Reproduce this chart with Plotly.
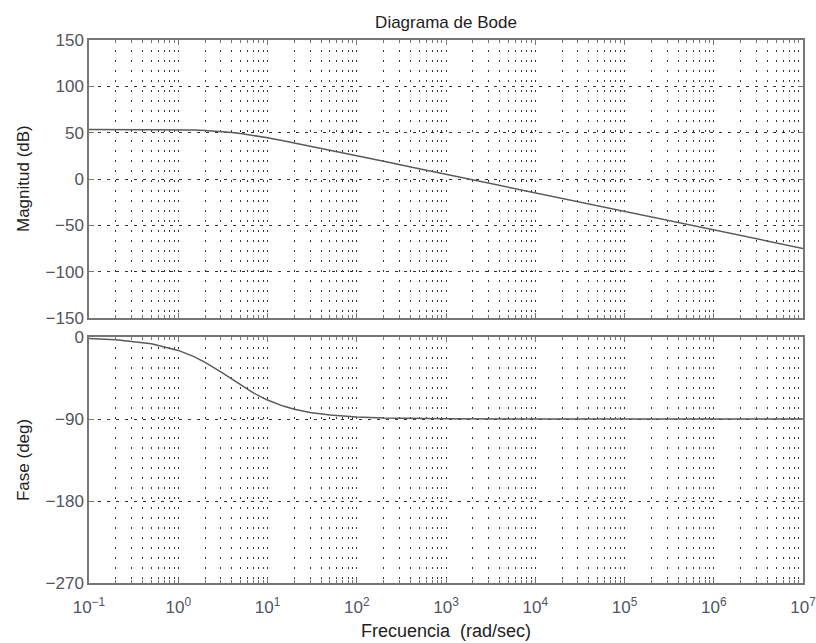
import plotly.graph_objects as go
from plotly.subplots import make_subplots

# --- data ---
freq = [0.1, 0.2, 0.5, 1, 1.5, 2, 3, 4, 5, 7, 10, 15, 20, 30, 50, 100, 200, 500,
        1e3, 1e4, 1e5, 1e6, 1e7]
magnitude_db = [53.5, 53.5, 53.4, 53.2, 52.9, 52.4, 51.4, 50.3, 49.1, 47.1, 44.5, 41.3,
                38.9, 35.5, 31.1, 25.1, 19.1, 11.1, 5.1, -14.9, -34.9, -54.9, -74.9]
phase_deg = [-1.5, -3.0, -7.5, -14.7, -21.5, -27.8, -38.3, -46.5, -52.8, -61.5, -69.2,
             -75.8, -79.2, -82.8, -85.7, -87.8, -88.9, -89.6, -89.8, -90, -90, -90, -90]

x_tick_exps = [-1, 0, 1, 2, 3, 4, 5, 6, 7]
x_tick_labels = ["10<sup>\u22121</sup>"] + ["10<sup>%d</sup>" % e for e in x_tick_exps[1:]]
mag_ticks = [-150, -100, -50, 0, 50, 100, 150]
phase_ticks = [-270, -180, -90, 0]

title_text = "Diagrama de Bode"
mag_label = "Magnitud (dB)"
phase_label = "Fase (deg)"
x_label = "Frecuencia\u00a0 (rad/sec)"

# --- styling ---
FONT = "Liberation Sans, Arial, sans-serif"
TICKCOL = "#505562"
AXCOL = "#777777"
GRIDCOL = "#333333"
LINECOL = "#5a5a5a"

minor_vals = [m * 10 ** e for e in range(-1, 7) for m in range(2, 10)]

fig = make_subplots(rows=2, cols=1, shared_xaxes=False, vertical_spacing=0.0)

fig.add_trace(go.Scatter(x=freq, y=magnitude_db, mode="lines",
                         line=dict(color=LINECOL, width=1.5), showlegend=False,
                         hoverinfo="skip"),
              row=1, col=1)
fig.add_trace(go.Scatter(x=freq, y=phase_deg, mode="lines",
                         line=dict(color=LINECOL, width=1.5), showlegend=False,
                         hoverinfo="skip"),
              row=2, col=1)

common_x = dict(
    type="log", range=[-1, 7], automargin=False, ticklabeloverflow="allow",
    tickmode="array", tickvals=[10 ** e for e in x_tick_exps], ticktext=x_tick_labels,
    ticks="inside", ticklen=5, tickcolor=AXCOL, tickwidth=1, ticklabelstandoff=8,
    showline=True, linecolor=AXCOL, linewidth=1.5, mirror="allticks",
    showgrid=True, gridcolor=GRIDCOL, gridwidth=1, griddash="2px,8px",
    zeroline=False,
    minor=dict(tickmode="array", tickvals=minor_vals, ticks="inside", ticklen=3,
               tickcolor=AXCOL, showgrid=True, gridcolor=GRIDCOL, gridwidth=1,
               griddash="2px,8px"),
    tickfont=dict(family=FONT, size=17, color=TICKCOL),
)

fig.update_xaxes(**common_x)
fig.update_xaxes(showticklabels=False, row=1, col=1)

common_y = dict(
    automargin=False,
    ticks="inside", ticklen=5, tickcolor=AXCOL, tickwidth=1,
    showline=True, linecolor=AXCOL, linewidth=1.5, mirror="allticks",
    showgrid=True, gridcolor=GRIDCOL, gridwidth=1, griddash="3px,6px",
    zeroline=False, tickmode="array",
    tickfont=dict(family=FONT, size=17, color=TICKCOL),
)
fig.update_yaxes(**common_y)
fig.update_yaxes(range=[-150, 150], tickvals=mag_ticks,
                 ticktext=[str(v).replace("-", "\u2212") for v in mag_ticks],
                 domain=[0.488, 1.0], row=1, col=1)
fig.update_yaxes(range=[-270, 0], tickvals=phase_ticks,
                 ticktext=[str(v).replace("-", "\u2212") for v in phase_ticks],
                 domain=[0.0, 0.453], row=2, col=1)

annots = [
    dict(text=mag_label, xref="paper", yref="y domain", x=0, y=0.5, xshift=-66,
         textangle=-90, showarrow=False, xanchor="center", yanchor="middle",
         font=dict(family=FONT, size=17, color="#222222")),
    dict(text=phase_label, xref="paper", yref="y2 domain", x=0, y=0.5, xshift=-66,
         textangle=-90, showarrow=False, xanchor="center", yanchor="middle",
         font=dict(family=FONT, size=17, color="#222222")),
    dict(text=x_label, xref="paper", yref="paper", x=0.5, y=0, yshift=-48,
         showarrow=False, xanchor="center", yanchor="middle",
         font=dict(family=FONT, size=18, color="#222222")),
]
fig.update_layout(
    width=816, height=643,
    margin=dict(l=89, r=13, t=40, b=60, autoexpand=False),
    paper_bgcolor="white", plot_bgcolor="white",
    title=dict(text=title_text, x=0.5, xref="paper", xanchor="center",
               y=1 - 22 / 643, yref="container", yanchor="middle",
               font=dict(family=FONT, size=17, color="#222222")),
    annotations=annots,
    showlegend=False,
    hovermode=False,
)

fig.write_html("out.html",
               config={"displayModeBar": False},
               post_script="document.body.style.margin='0px';"
                           "document.body.style.overflow='hidden';")
